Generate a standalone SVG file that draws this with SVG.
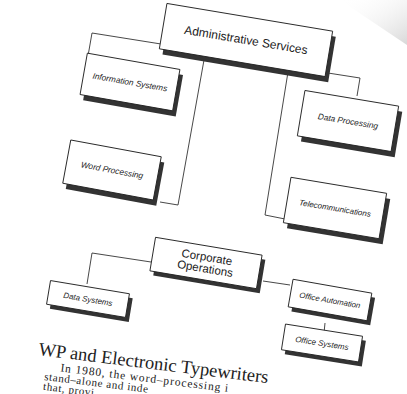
<svg xmlns="http://www.w3.org/2000/svg" width="407" height="394" viewBox="0 0 407 394">
<defs>
<linearGradient id="pg" x1="0" y1="0" x2="1" y2="1">
<stop offset="0" stop-color="#ffffff" stop-opacity="0"/>
<stop offset="1" stop-color="#d8d8d8"/>
</linearGradient>
<style>
.box{fill:#fff;stroke:#222;stroke-width:0.9}
.sh{fill:#333}
.lbl{font-family:"Liberation Sans",Arial,sans-serif;fill:#222;text-anchor:middle}
.sm{font-style:italic}
.serif{font-family:"Liberation Serif","Times New Roman",serif;fill:#222}
</style>
</defs>
<rect width="407" height="394" fill="#fff"/>
<polygon points="340,0 407,0 407,45" fill="url(#pg)"/>
<g id="connectors" fill="none" stroke="#333" stroke-width="0.9">
<polyline points="161,44 92,33 88,56"/>
<polyline points="204,60 178,205 160,202"/>
<polyline points="328,73 360,78 357,96"/>
<polyline points="288,72 265,215 285,219"/>
<polyline points="151,262 92,253 87,284"/>
<polyline points="263,281 290,285"/>
<polyline points="325,323 324,333"/>
</g>
<g id="admin" transform="translate(246,40) rotate(9.5)">
<rect class="sh" x="-80" y="-18" width="168" height="46"/>
<rect class="box" x="-84" y="-23" width="168" height="46"/>
<text class="lbl" x="0" y="4" font-size="12">Administrative Services</text>
</g>
<g id="info" transform="translate(130,82) rotate(10)">
<rect class="sh" x="-43" y="-16" width="94" height="42"/>
<rect class="box" x="-47" y="-21" width="94" height="42"/>
<text class="lbl sm" x="0" y="3" font-size="8.3">Information Systems</text>
</g>
<g id="wp" transform="translate(112,170) rotate(10.5)">
<rect class="sh" x="-42" y="-17" width="92" height="44"/>
<rect class="box" x="-46" y="-22" width="92" height="44"/>
<text class="lbl sm" x="0" y="3" font-size="8.3">Word Processing</text>
</g>
<g id="dp" transform="translate(348,121) rotate(9.5)">
<rect class="sh" x="-43" y="-18" width="95" height="46"/>
<rect class="box" x="-47.5" y="-23" width="95" height="46"/>
<text class="lbl sm" x="0" y="3" font-size="8.3">Data Processing</text>
</g>
<g id="tel" transform="translate(335,208) rotate(9.5)">
<rect class="sh" x="-44" y="-18" width="97" height="46"/>
<rect class="box" x="-48.5" y="-23" width="97" height="46"/>
<text class="lbl sm" x="0" y="3" font-size="8">Telecommunications</text>
</g>
<g id="corp" transform="translate(206,263) rotate(9.5)">
<rect class="sh" x="-50" y="-13" width="108" height="34"/>
<rect class="box" x="-54" y="-17" width="108" height="34"/>
<text class="lbl" x="0" y="-2" font-size="11.5">Corporate</text>
<text class="lbl" x="0" y="9.5" font-size="11.5">Operations</text>
</g>
<g id="ds" transform="translate(88,299) rotate(9.5)">
<rect class="sh" x="-36" y="-8" width="80" height="24"/>
<rect class="box" x="-40" y="-12" width="80" height="24"/>
<text class="lbl sm" x="0" y="3" font-size="8">Data Systems</text>
</g>
<g id="oa" transform="translate(330,300) rotate(10)">
<rect class="sh" x="-36" y="-10" width="80" height="28"/>
<rect class="box" x="-40" y="-14" width="80" height="28"/>
<text class="lbl sm" x="0" y="3" font-size="7.8">Office Automation</text>
</g>
<g id="os" transform="translate(322,343) rotate(9)">
<rect class="sh" x="-35" y="-9" width="78" height="26"/>
<rect class="box" x="-39" y="-13" width="78" height="26"/>
<text class="lbl sm" x="0" y="3" font-size="8">Office Systems</text>
</g>
<g id="page-text" transform="translate(38,355) rotate(7)">
<text class="serif" x="0" y="0" font-size="18.5">WP and Electronic Typewriters</text>
<text class="serif" x="24" y="13.5" font-size="11.5" letter-spacing="0.9">In 1980, the word–processing i</text>
<text class="serif" x="9" y="24" font-size="11" letter-spacing="0.6">stand–alone and inde</text>
<text class="serif" x="9" y="34" font-size="11" letter-spacing="0.6">that, provi</text>
</g>
</svg>
